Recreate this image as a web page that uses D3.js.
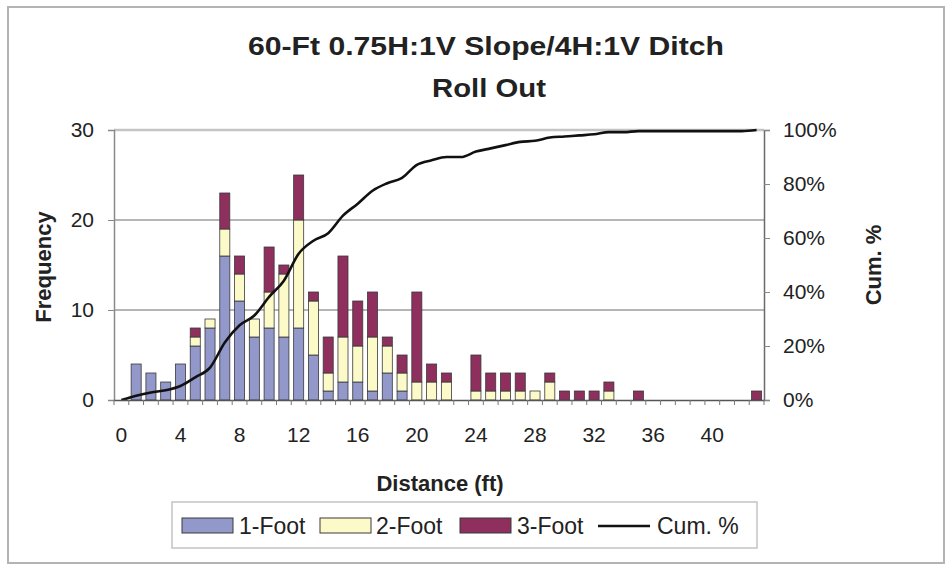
<!DOCTYPE html>
<html>
<head>
<meta charset="utf-8">
<script src="https://cdn.jsdelivr.net/npm/d3@7"></script>
<style>
  html, body { margin: 0; padding: 0; background: #fff; }
  svg { display: block; font-family: "Liberation Sans", Arial, sans-serif; }
</style>
</head>
<body>
<svg id="chart" width="952" height="568"></svg>
<script>
// ---- data ----
const categories = d3.range(0, 44); // distance (ft) 0..43
const foot1 = [0,4,3,2,4,6,8,16,11,7,8,7,8,5,1,2,2,1,3,1,0,0,0,0,0,0,0,0,0,0,0,0,0,0,0,0,0,0,0,0,0,0,0,0];
const foot2 = [0,0,0,0,0,1,1,3,3,2,4,7,12,6,2,5,4,6,3,2,2,2,2,0,1,1,1,1,1,2,0,0,0,1,0,0,0,0,0,0,0,0,0,0];
const foot3 = [0,0,0,0,0,1,0,4,2,0,5,1,5,1,4,9,5,5,1,2,10,2,1,0,4,2,2,2,0,1,1,1,1,1,0,1,0,0,0,0,0,0,0,1];
const cumPct = [0,1.6,2.8,3.6,5.2,8.4,12.0,21.3,27.7,31.3,38.2,44.2,54.2,59.0,61.8,68.3,72.7,77.5,80.3,82.3,
                87.1,88.8,90.0,90.0,92.0,93.2,94.4,95.6,96.0,97.2,97.6,98.0,98.4,99.2,99.2,99.6,99.6,99.6,99.6,99.6,
                99.6,99.6,99.6,100];
const seriesNames = ["1-Foot", "2-Foot", "3-Foot"];
const xTickLabels = [0,4,8,12,16,20,24,28,32,36,40];
const yTicks = [0,10,20,30];
const y2Ticks = [0,0.2,0.4,0.6,0.8,1.0];
const titleLines = ["60-Ft 0.75H:1V Slope/4H:1V Ditch", "Roll Out"];

// ---- styles ----
const colors = ["#9298CA", "#FCFAC9", "#8E2F5E"];
const svg = d3.select("#chart");
const L = 114, R = 764, T = 130, B = 400;

svg.append("rect").attr("x",0).attr("y",0).attr("width",952).attr("height",568).attr("fill","#fff");
svg.append("rect").attr("x",8).attr("y",7).attr("width",936).attr("height",556)
   .attr("fill","none").attr("stroke","#b4b4b4").attr("stroke-width",2);

const x = d3.scaleBand().domain(categories).range([L, R]).paddingInner(0.32).paddingOuter(0.16);
const y = d3.scaleLinear().domain([0, 30]).range([B, T]);
const y2 = d3.scaleLinear().domain([0, 1]).range([B, T]);

// gridlines
svg.append("g").selectAll("line").data([10,20]).join("line")
  .attr("x1", L).attr("x2", R).attr("y1", d => y(d)).attr("y2", d => y(d))
  .attr("stroke", "#9c9c9c").attr("stroke-width", 1.5);
svg.append("line").attr("x1", L).attr("x2", R).attr("y1", y(30)).attr("y2", y(30))
  .attr("stroke", "#c4c4c4").attr("stroke-width", 2.5);

// stacked bars
const rows = categories.map((c, i) => ({cat: c, "1-Foot": foot1[i], "2-Foot": foot2[i], "3-Foot": foot3[i]}));
const stacked = d3.stack().keys(seriesNames)(rows);
svg.append("g").selectAll("g").data(stacked).join("g")
  .attr("fill", (d, i) => colors[i])
  .selectAll("rect").data(d => d.filter(s => s[1] - s[0] > 0)).join("rect")
  .attr("x", d => x(d.data.cat))
  .attr("width", x.bandwidth())
  .attr("y", d => y(d[1]))
  .attr("height", d => y(d[0]) - y(d[1]))
  .attr("stroke", "#3a3a3a").attr("stroke-width", 0.8);

// cumulative line
const line = d3.line()
  .x((d, i) => x(categories[i]) + x.bandwidth() / 2)
  .y(d => y2(d / 100))
  .curve(d3.curveMonotoneX);
svg.append("path").datum(cumPct).attr("d", line)
  .attr("fill", "none").attr("stroke", "#111").attr("stroke-width", 2.6);

// left axis
const yAxis = svg.append("g").attr("transform", `translate(${L},0)`)
  .call(d3.axisLeft(y).tickValues(yTicks).tickSize(6).tickPadding(14));
// right axis
const y2Axis = svg.append("g").attr("transform", `translate(${R},0)`)
  .call(d3.axisRight(y2).tickValues(y2Ticks).tickFormat(d3.format(".0%")).tickSize(6).tickPadding(13));
// bottom axis
const step = x.step();
const xAxis = svg.append("g").attr("transform", `translate(0,${B})`)
  .call(d3.axisBottom(x).tickValues(xTickLabels).tickSize(0).tickPadding(27));
// tick marks at category boundaries
svg.append("g").selectAll("line").data(categories.concat([44])).join("line")
  .attr("x1", d => x(d) !== undefined ? x(d) - step * x.paddingInner() / 2 : R)
  .attr("x2", d => x(d) !== undefined ? x(d) - step * x.paddingInner() / 2 : R)
  .attr("y1", B).attr("y2", B + 5).attr("stroke", "#777").attr("stroke-width", 1);

[yAxis, y2Axis, xAxis].forEach(g => {
  g.selectAll("text").attr("font-size", 21).attr("fill", "#222")
    .attr("font-family", "'Liberation Sans', Arial, sans-serif");
  g.selectAll(".tick line").attr("stroke", "#888");
});
yAxis.select(".domain").attr("stroke", "#8a8a8a").attr("stroke-width", 1.5);
y2Axis.select(".domain").attr("stroke", "#6a6a6a").attr("stroke-width", 1.5);
xAxis.select(".domain").attr("stroke", "#555").attr("stroke-width", 1.5);

// titles
svg.append("text").attr("x", 486).attr("y", 55).attr("text-anchor", "middle")
  .attr("font-size", 25).attr("font-weight", "bold").attr("fill", "#222")
  .attr("textLength", 476).attr("lengthAdjust", "spacingAndGlyphs").text(titleLines[0]);
svg.append("text").attr("x", 489).attr("y", 97).attr("text-anchor", "middle")
  .attr("font-size", 25).attr("font-weight", "bold").attr("fill", "#222")
  .attr("textLength", 114).attr("lengthAdjust", "spacingAndGlyphs").text(titleLines[1]);

svg.append("text").attr("transform", "translate(51,267) rotate(-90)").attr("text-anchor", "middle")
  .attr("font-size", 22).attr("font-weight", "bold").attr("fill", "#222").text("Frequency");
svg.append("text").attr("transform", "translate(881,265) rotate(-90)").attr("text-anchor", "middle")
  .attr("font-size", 22).attr("font-weight", "bold").attr("fill", "#222").text("Cum. %");
svg.append("text").attr("x", 440).attr("y", 491).attr("text-anchor", "middle")
  .attr("font-size", 22).attr("font-weight", "bold").attr("fill", "#222").text("Distance (ft)");

// legend
const lg = svg.append("g");
lg.append("rect").attr("x", 172).attr("y", 502).attr("width", 585).attr("height", 46)
  .attr("fill", "#fff").attr("stroke", "#c4c4c4").attr("stroke-width", 1.5);
const swX = [182, 320, 460];
const txX = [239, 376, 517];
seriesNames.forEach((n, i) => {
  lg.append("rect").attr("x", swX[i]).attr("y", 518).attr("width", 51).attr("height", 15)
    .attr("fill", colors[i]).attr("stroke", "#3a3a3a").attr("stroke-width", 1);
  lg.append("text").attr("x", txX[i]).attr("y", 534).attr("font-size", 23).attr("fill", "#222").text(n);
});
lg.append("line").attr("x1", 598).attr("x2", 650).attr("y1", 526).attr("y2", 526)
  .attr("stroke", "#111").attr("stroke-width", 2.6);
lg.append("text").attr("x", 657).attr("y", 534).attr("font-size", 23).attr("fill", "#222").text("Cum. %");
</script>
</body>
</html>
